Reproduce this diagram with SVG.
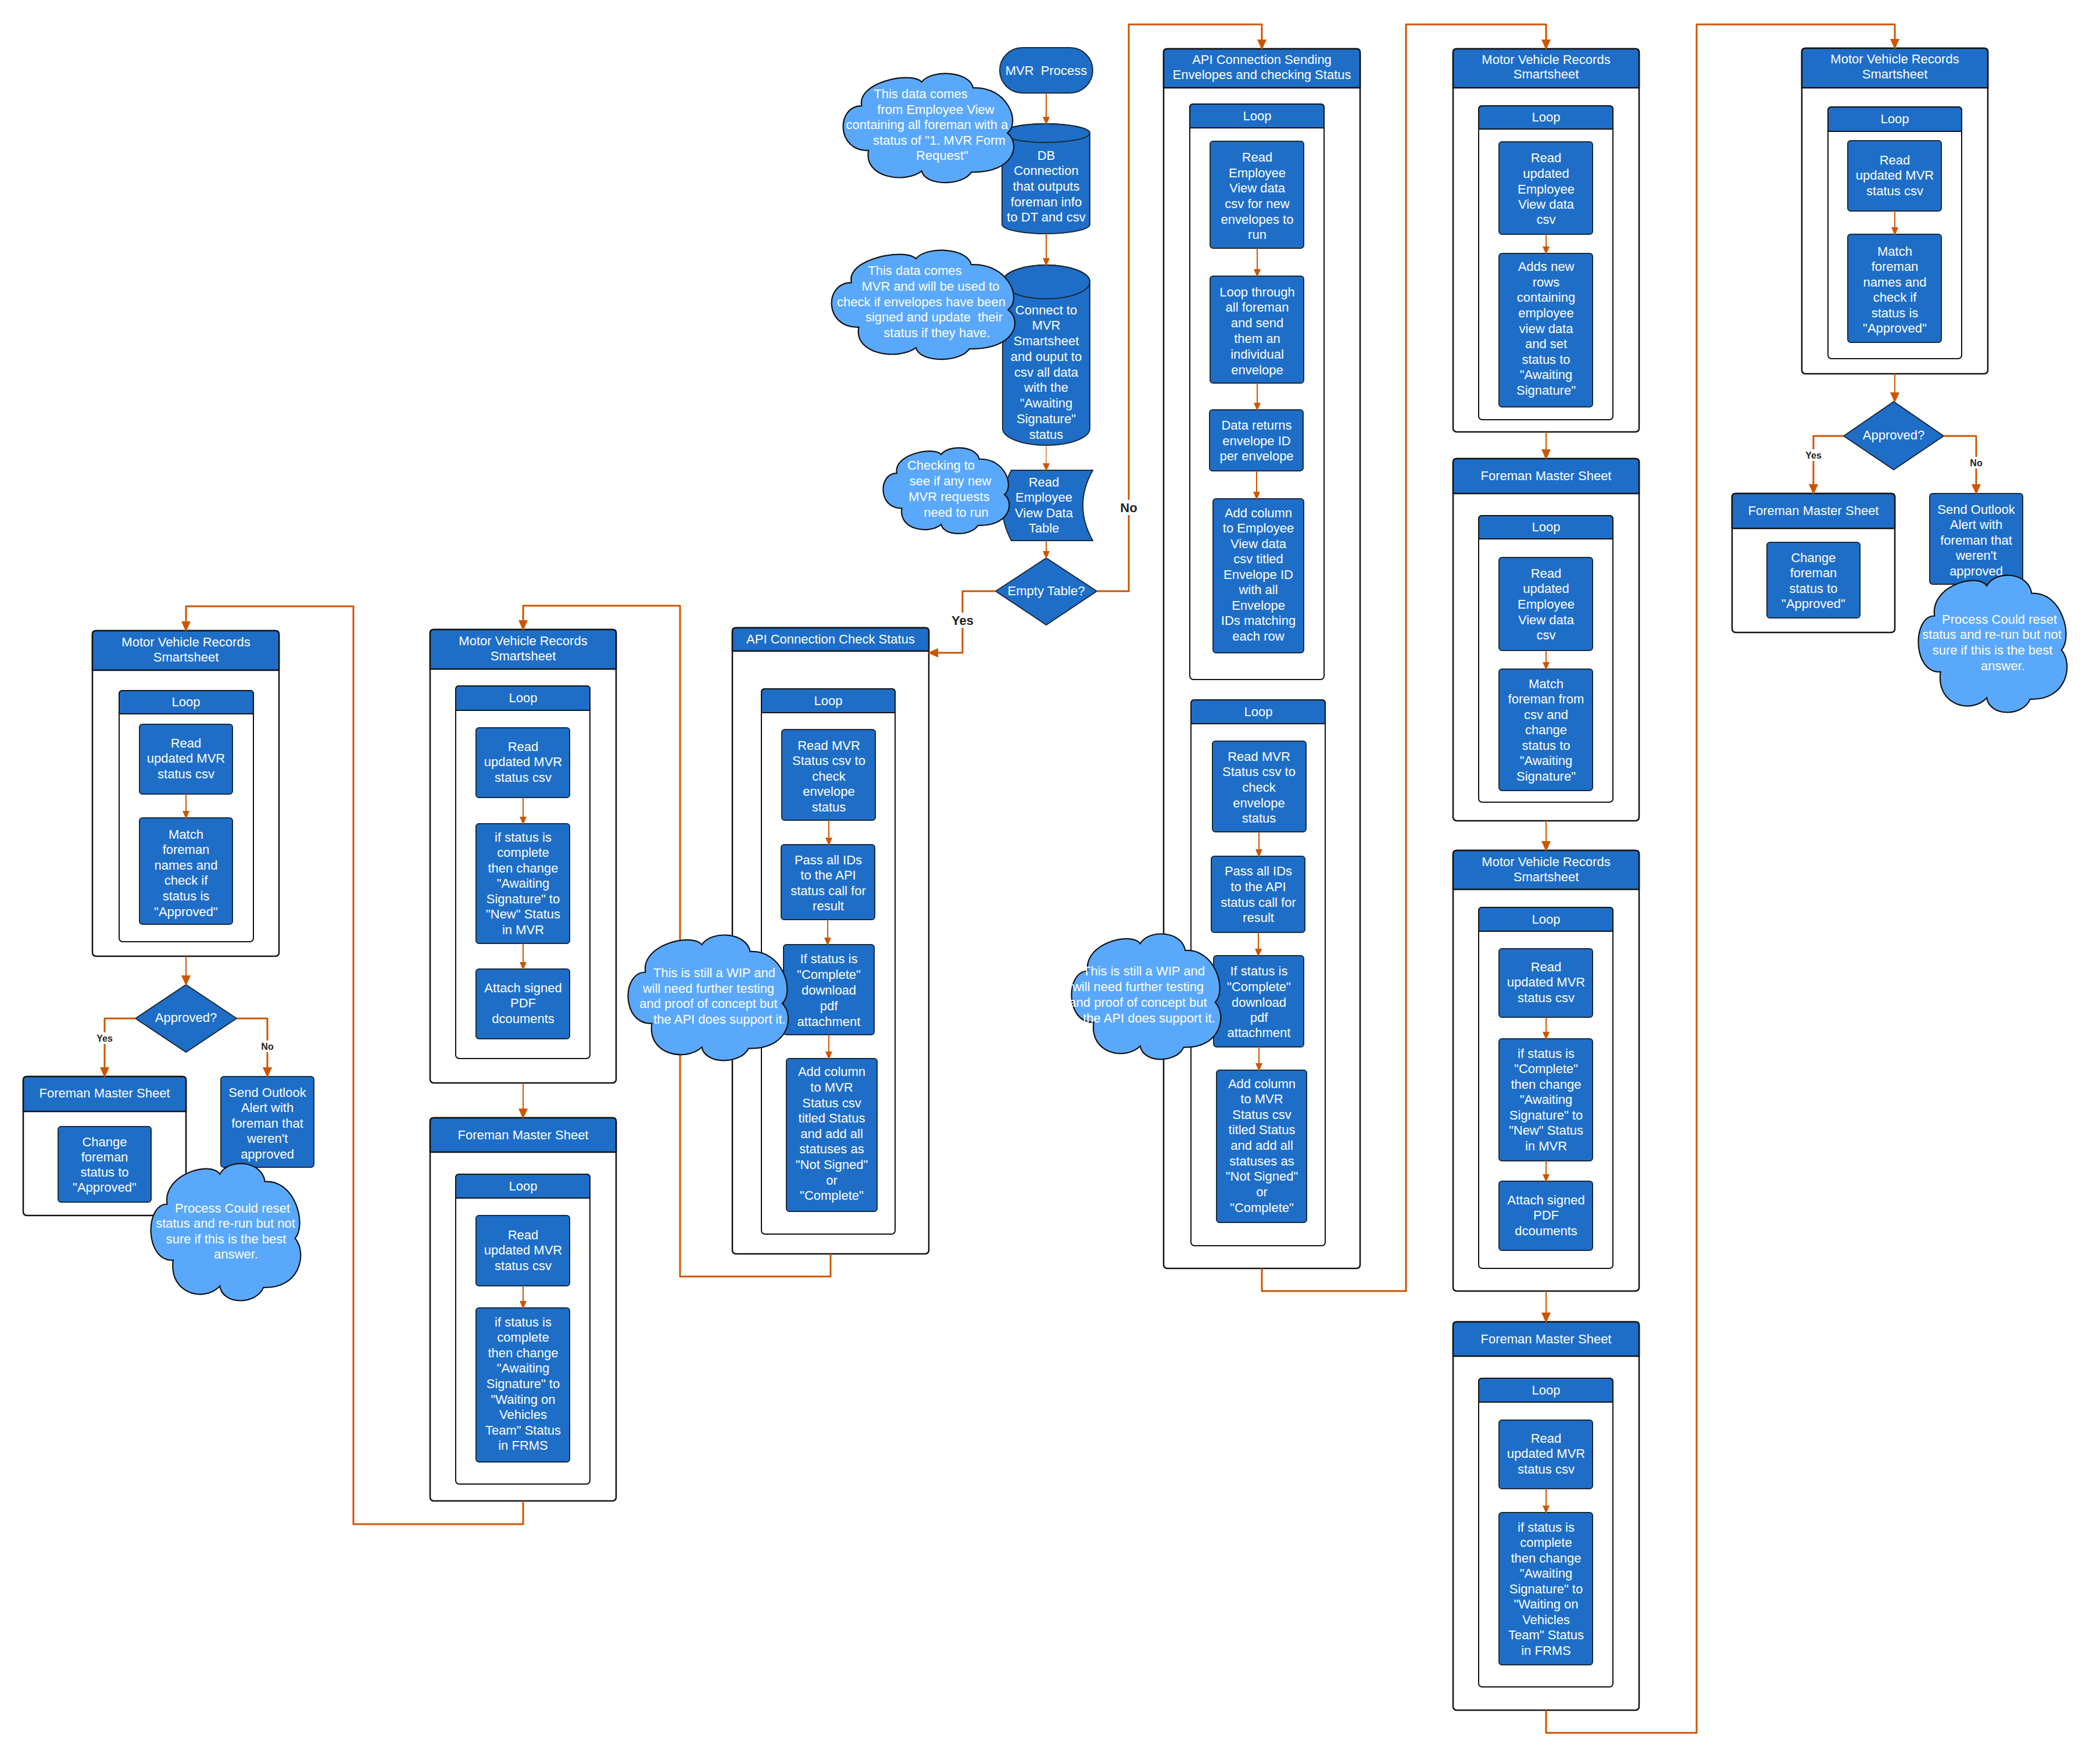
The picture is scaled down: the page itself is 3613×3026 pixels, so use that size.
<svg xmlns="http://www.w3.org/2000/svg" width="3613" height="3026" viewBox="0 0 3613 3026">
<style>
.bg{fill:#ffffff}
.box{fill:#1e6ec8;stroke:#1a2a3a;stroke-width:2}
.cont{fill:#ffffff;stroke:#111111;stroke-width:2.5}
.hdr{fill:#1e6ec8;stroke:#111111;stroke-width:2.5}
.dia{fill:#1e6ec8;stroke:#1a2a3a;stroke-width:2}
.cloud{fill:#5aa8fc;stroke:#111111;stroke-width:2.2}
.t{font-family:"Liberation Sans",Arial,sans-serif;font-size:22px;fill:#ffffff;text-anchor:middle;dominant-baseline:central}
.c1{fill:none;stroke:#cc5500;stroke-width:3;stroke-linejoin:round}
.c2{fill:none;stroke:#cc5500;stroke-width:2}
.lb{font-family:"Liberation Sans",Arial,sans-serif;font-weight:bold;fill:#222222;text-anchor:middle;dominant-baseline:central}
.lbg{fill:#ffffff}
</style>
<defs>
<marker id="ah" viewBox="0 0 18 16" refX="16" refY="8" markerWidth="18" markerHeight="16" markerUnits="userSpaceOnUse" orient="auto"><path d="M0,0 L18,8 L0,16 Z" fill="#cc5500"/></marker>
<marker id="as" viewBox="0 0 14 12" refX="12" refY="6" markerWidth="14" markerHeight="12" markerUnits="userSpaceOnUse" orient="auto"><path d="M0,0 L14,6 L0,12 Z" fill="#cc5500"/></marker>
<path id="cl" vector-effect="non-scaling-stroke" d="M11,30 C8,8 40,-2 46,8 C52,-4 74,-2 76,13.5 C96,12 104,45 96,55 C104,65 100,92 75,91 C70,104 48,104 46,90 C36,102 12,96 15,71 C-4,72 -4,30 11,30 Z"/>
</defs>
<rect class="bg" x="0" y="0" width="3613" height="3026"/>

<!-- ===== containers & nodes ===== -->
<g id="start-mvr-process">
<rect class="box" x="1720" y="82" width="160" height="78" rx="39"/>
<text class="t" x="1800" y="121">MVR&#160; Process</text>
</g>
<g id="db-connection">
<path class="box" d="M1724 229 A75.5 16 0 0 1 1875 229 V386 A75.5 16 0 0 1 1724 386 Z"/>
<ellipse cx="1799.5" cy="229" rx="75.5" ry="16" fill="none" stroke="#1a2a3a" stroke-width="2"/>
<text class="t"><tspan x="1800" y="267">DB</tspan><tspan x="1800" y="293">Connection</tspan><tspan x="1800" y="320">that outputs</tspan><tspan x="1800" y="347">foreman info</tspan><tspan x="1800" y="373">to DT and csv</tspan></text>
</g>
<g id="connect-mvr-smartsheet">
<path class="box" d="M1725 485 A75 29 0 0 1 1875 485 V737 A75 29 0 0 1 1725 737 Z"/>
<ellipse cx="1800" cy="485" rx="75" ry="29" fill="none" stroke="#1a2a3a" stroke-width="2"/>
<text class="t"><tspan x="1800" y="533">Connect to</tspan><tspan x="1800" y="559">MVR</tspan><tspan x="1800" y="586">Smartsheet</tspan><tspan x="1800" y="613">and ouput to</tspan><tspan x="1800" y="640">csv all data</tspan><tspan x="1800" y="666">with the</tspan><tspan x="1800" y="693">"Awaiting</tspan><tspan x="1800" y="720">Signature"</tspan><tspan x="1800" y="747">status</tspan></text>
</g>
<g id="read-employee-view">
<path class="box" d="M1740 809 H1880 Q1846 869.5 1880 930 H1740 Q1708 869.5 1740 809 Z"/>
<text class="t"><tspan x="1796" y="829">Read</tspan><tspan x="1796" y="855">Employee</tspan><tspan x="1796" y="882">View Data</tspan><tspan x="1796" y="908">Table</tspan></text>
</g>
<g id="empty-table">
<path class="dia" d="M1713 1017 L1800 960 L1887 1017 L1800 1075 Z"/>
<text class="t" x="1800" y="1016">Empty Table?</text>
</g>

<!-- column 1 -->
<g id="c1-mvr">
<rect class="cont" x="159" y="1085" width="321" height="560" rx="6"/>
<path class="hdr" d="M159 1153 V1091 Q159 1085 165 1085 H474 Q480 1085 480 1091 V1153 Z"/>
<text class="t"><tspan x="320" y="1104">Motor Vehicle Records</tspan><tspan x="320" y="1130">Smartsheet</tspan></text>
</g>
<g id="c1-loop">
<rect class="cont" x="205" y="1188" width="231" height="432" rx="6" style="stroke-width:2"/>
<path class="hdr" style="stroke-width:2" d="M205 1228 V1194 Q205 1188 211 1188 H430 Q436 1188 436 1194 V1228 Z"/>
<text class="t" x="320" y="1207">Loop</text>
</g>
<g id="c1-read">
<rect class="box" x="240" y="1246" width="160" height="120" rx="5"/>
<text class="t"><tspan x="320" y="1278">Read</tspan><tspan x="320" y="1304">updated MVR</tspan><tspan x="320" y="1331">status csv</tspan></text>
</g>
<g id="c1-match">
<rect class="box" x="240" y="1407" width="160" height="183" rx="5"/>
<text class="t"><tspan x="320" y="1435">Match</tspan><tspan x="320" y="1461">foreman</tspan><tspan x="320" y="1488">names and</tspan><tspan x="320" y="1514">check if</tspan><tspan x="320" y="1541">status is</tspan><tspan x="320" y="1568">"Approved"</tspan></text>
</g>
<g id="c1-approved">
<path class="dia" d="M233 1752 L320 1694 L407 1752 L320 1810 Z"/>
<text class="t" x="320" y="1750">Approved?</text>
</g>
<g id="c1-fms">
<rect class="cont" x="40" y="1852" width="280" height="239" rx="6"/>
<path class="hdr" d="M40 1912 V1858 Q40 1852 46 1852 H314 Q320 1852 320 1858 V1912 Z"/>
<text class="t" x="180" y="1880">Foreman Master Sheet</text>
</g>
<g id="c1-change">
<rect class="box" x="100" y="1938" width="160" height="130" rx="5"/>
<text class="t"><tspan x="180" y="1964">Change</tspan><tspan x="180" y="1990">foreman</tspan><tspan x="180" y="2016">status to</tspan><tspan x="180" y="2042">"Approved"</tspan></text>
</g>
<g id="c1-outlook">
<rect class="box" x="380" y="1852" width="160" height="156" rx="5"/>
<text class="t"><tspan x="460" y="1879">Send Outlook</tspan><tspan x="460" y="1905">Alert with</tspan><tspan x="460" y="1932">foreman that</tspan><tspan x="460" y="1958">weren't</tspan><tspan x="460" y="1985">approved</tspan></text>
</g>

<!-- column 2 -->
<g id="c2-mvr">
<rect class="cont" x="740" y="1083" width="320" height="780" rx="6"/>
<path class="hdr" d="M740 1151 V1089 Q740 1083 746 1083 H1054 Q1060 1083 1060 1089 V1151 Z"/>
<text class="t"><tspan x="900" y="1102">Motor Vehicle Records</tspan><tspan x="900" y="1128">Smartsheet</tspan></text>
</g>
<g id="c2-loop">
<rect class="cont" x="784" y="1180" width="231" height="641" rx="6" style="stroke-width:2"/>
<path class="hdr" style="stroke-width:2" d="M784 1222 V1186 Q784 1180 790 1180 H1009 Q1015 1180 1015 1186 V1222 Z"/>
<text class="t" x="900" y="1200">Loop</text>
</g>
<g id="c2-read">
<rect class="box" x="819" y="1252" width="161" height="120" rx="5"/>
<text class="t"><tspan x="900" y="1284">Read</tspan><tspan x="900" y="1310">updated MVR</tspan><tspan x="900" y="1337">status csv</tspan></text>
</g>
<g id="c2-ifcomplete">
<rect class="box" x="819" y="1417" width="161" height="206" rx="5"/>
<text class="t"><tspan x="900" y="1440">if status is</tspan><tspan x="900" y="1466">complete</tspan><tspan x="900" y="1493">then change</tspan><tspan x="900" y="1519">"Awaiting</tspan><tspan x="900" y="1546">Signature" to</tspan><tspan x="900" y="1572">"New" Status</tspan><tspan x="900" y="1599">in MVR</tspan></text>
</g>
<g id="c2-attach">
<rect class="box" x="819" y="1667" width="161" height="120" rx="5"/>
<text class="t"><tspan x="900" y="1699">Attach signed</tspan><tspan x="900" y="1725">PDF</tspan><tspan x="900" y="1752">dcouments</tspan></text>
</g>
<g id="c2-fms">
<rect class="cont" x="740" y="1923" width="320" height="659" rx="6"/>
<path class="hdr" d="M740 1982 V1929 Q740 1923 746 1923 H1054 Q1060 1923 1060 1929 V1982 Z"/>
<text class="t" x="900" y="1952">Foreman Master Sheet</text>
</g>
<g id="c2-fms-loop">
<rect class="cont" x="784" y="2020" width="231" height="533" rx="6" style="stroke-width:2"/>
<path class="hdr" style="stroke-width:2" d="M784 2061 V2026 Q784 2020 790 2020 H1009 Q1015 2020 1015 2026 V2061 Z"/>
<text class="t" x="900" y="2040">Loop</text>
</g>
<g id="c2-fms-read">
<rect class="box" x="819" y="2091" width="161" height="121" rx="5"/>
<text class="t"><tspan x="900" y="2124">Read</tspan><tspan x="900" y="2150">updated MVR</tspan><tspan x="900" y="2177">status csv</tspan></text>
</g>
<g id="c2-fms-ifcomplete">
<rect class="box" x="819" y="2250" width="161" height="265" rx="5"/>
<text class="t"><tspan x="900" y="2274">if status is</tspan><tspan x="900" y="2300">complete</tspan><tspan x="900" y="2327">then change</tspan><tspan x="900" y="2353">"Awaiting</tspan><tspan x="900" y="2380">Signature" to</tspan><tspan x="900" y="2407">"Waiting on</tspan><tspan x="900" y="2433">Vehicles</tspan><tspan x="900" y="2460">Team" Status</tspan><tspan x="900" y="2486">in FRMS</tspan></text>
</g>

<!-- column 3 : API check status -->
<g id="c3-api-check">
<rect class="cont" x="1260" y="1080" width="338" height="1077" rx="6"/>
<path class="hdr" d="M1260 1120 V1086 Q1260 1080 1266 1080 H1592 Q1598 1080 1598 1086 V1120 Z"/>
<text class="t" x="1429" y="1099">API Connection Check Status</text>
</g>
<g id="c3-loop">
<rect class="cont" x="1310" y="1185" width="230" height="938" rx="6" style="stroke-width:2"/>
<path class="hdr" style="stroke-width:2" d="M1310 1226 V1191 Q1310 1185 1316 1185 H1534 Q1540 1185 1540 1191 V1226 Z"/>
<text class="t" x="1425" y="1205">Loop</text>
</g>
<g id="c3-read">
<rect class="box" x="1345" y="1255" width="161" height="156" rx="5"/>
<text class="t"><tspan x="1426" y="1282">Read MVR</tspan><tspan x="1426" y="1308">Status csv to</tspan><tspan x="1426" y="1335">check</tspan><tspan x="1426" y="1361">envelope</tspan><tspan x="1426" y="1388">status</tspan></text>
</g>
<g id="c3-pass">
<rect class="box" x="1344" y="1453" width="161" height="129" rx="5"/>
<text class="t"><tspan x="1425" y="1479">Pass all IDs</tspan><tspan x="1425" y="1505">to the API</tspan><tspan x="1425" y="1532">status call for</tspan><tspan x="1425" y="1558">result</tspan></text>
</g>
<g id="c3-ifcomplete">
<rect class="box" x="1348" y="1625" width="156" height="155" rx="5"/>
<text class="t"><tspan x="1426" y="1649">If status is</tspan><tspan x="1426" y="1676">"Complete"</tspan><tspan x="1426" y="1703">download</tspan><tspan x="1426" y="1730">pdf</tspan><tspan x="1426" y="1757">attachment</tspan></text>
</g>
<g id="c3-addcol">
<rect class="box" x="1353" y="1821" width="156" height="263" rx="5"/>
<text class="t"><tspan x="1431" y="1843">Add column</tspan><tspan x="1431" y="1870">to MVR</tspan><tspan x="1431" y="1897">Status csv</tspan><tspan x="1431" y="1923">titled Status</tspan><tspan x="1431" y="1950">and add all</tspan><tspan x="1431" y="1976">statuses as</tspan><tspan x="1431" y="2003">"Not Signed"</tspan><tspan x="1431" y="2030">or</tspan><tspan x="1431" y="2056">"Complete"</tspan></text>
</g>

<!-- column 4 : API sending -->
<g id="c4-api-send">
<rect class="cont" x="2002" y="84" width="338" height="2098" rx="6"/>
<path class="hdr" d="M2002 151 V90 Q2002 84 2008 84 H2334 Q2340 84 2340 90 V151 Z"/>
<text class="t"><tspan x="2171" y="102">API Connection Sending</tspan><tspan x="2171" y="128">Envelopes and checking Status</tspan></text>
</g>
<g id="c4-loop1">
<rect class="cont" x="2047" y="179" width="231" height="990" rx="6" style="stroke-width:2"/>
<path class="hdr" style="stroke-width:2" d="M2047 220 V185 Q2047 179 2053 179 H2272 Q2278 179 2278 185 V220 Z"/>
<text class="t" x="2163" y="199">Loop</text>
</g>
<g id="c4-read">
<rect class="box" x="2082" y="243" width="161" height="184" rx="5"/>
<text class="t"><tspan x="2163" y="270">Read</tspan><tspan x="2163" y="297">Employee</tspan><tspan x="2163" y="323">View data</tspan><tspan x="2163" y="350">csv for new</tspan><tspan x="2163" y="377">envelopes to</tspan><tspan x="2163" y="403">run</tspan></text>
</g>
<g id="c4-loopthrough">
<rect class="box" x="2082" y="475" width="161" height="184" rx="5"/>
<text class="t"><tspan x="2163" y="502">Loop through</tspan><tspan x="2163" y="528">all foreman</tspan><tspan x="2163" y="555">and send</tspan><tspan x="2163" y="582">them an</tspan><tspan x="2163" y="609">individual</tspan><tspan x="2163" y="636">envelope</tspan></text>
</g>
<g id="c4-datareturns">
<rect class="box" x="2081" y="705" width="161" height="105" rx="5"/>
<text class="t"><tspan x="2162" y="731">Data returns</tspan><tspan x="2162" y="758">envelope ID</tspan><tspan x="2162" y="784">per envelope</tspan></text>
</g>
<g id="c4-addcol-emp">
<rect class="box" x="2087" y="858" width="156" height="265" rx="5"/>
<text class="t"><tspan x="2165" y="882">Add column</tspan><tspan x="2165" y="908">to Employee</tspan><tspan x="2165" y="935">View data</tspan><tspan x="2165" y="961">csv titled</tspan><tspan x="2165" y="988">Envelope ID</tspan><tspan x="2165" y="1014">with all</tspan><tspan x="2165" y="1041">Envelope</tspan><tspan x="2165" y="1067">IDs matching</tspan><tspan x="2165" y="1094">each row</tspan></text>
</g>
<g id="c4-loop2">
<rect class="cont" x="2049" y="1204" width="231" height="939" rx="6" style="stroke-width:2"/>
<path class="hdr" style="stroke-width:2" d="M2049 1245 V1210 Q2049 1204 2055 1204 H2274 Q2280 1204 2280 1210 V1245 Z"/>
<text class="t" x="2165" y="1224">Loop</text>
</g>
<g id="c4-read-mvr">
<rect class="box" x="2086" y="1275" width="161" height="156" rx="5"/>
<text class="t"><tspan x="2166" y="1301">Read MVR</tspan><tspan x="2166" y="1327">Status csv to</tspan><tspan x="2166" y="1354">check</tspan><tspan x="2166" y="1381">envelope</tspan><tspan x="2166" y="1407">status</tspan></text>
</g>
<g id="c4-pass">
<rect class="box" x="2084" y="1473" width="161" height="131" rx="5"/>
<text class="t"><tspan x="2165" y="1498">Pass all IDs</tspan><tspan x="2165" y="1525">to the API</tspan><tspan x="2165" y="1552">status call for</tspan><tspan x="2165" y="1578">result</tspan></text>
</g>
<g id="c4-ifcomplete">
<rect class="box" x="2088" y="1644" width="155" height="157" rx="5"/>
<text class="t"><tspan x="2166" y="1670">If status is</tspan><tspan x="2166" y="1697">"Complete"</tspan><tspan x="2166" y="1724">download</tspan><tspan x="2166" y="1750">pdf</tspan><tspan x="2166" y="1776">attachment</tspan></text>
</g>
<g id="c4-addcol-mvr">
<rect class="box" x="2093" y="1841" width="155" height="262" rx="5"/>
<text class="t"><tspan x="2171" y="1864">Add column</tspan><tspan x="2171" y="1890">to MVR</tspan><tspan x="2171" y="1917">Status csv</tspan><tspan x="2171" y="1943">titled Status</tspan><tspan x="2171" y="1970">and add all</tspan><tspan x="2171" y="1997">statuses as</tspan><tspan x="2171" y="2023">"Not Signed"</tspan><tspan x="2171" y="2050">or</tspan><tspan x="2171" y="2077">"Complete"</tspan></text>
</g>

<!-- column 5 -->
<g id="c5-mvr1">
<rect class="cont" x="2500" y="84" width="320" height="659" rx="6"/>
<path class="hdr" d="M2500 151 V90 Q2500 84 2506 84 H2814 Q2820 84 2820 90 V151 Z"/>
<text class="t"><tspan x="2660" y="102">Motor Vehicle Records</tspan><tspan x="2660" y="127">Smartsheet</tspan></text>
</g>
<g id="c5-mvr1-loop">
<rect class="cont" x="2544" y="182" width="231" height="540" rx="6" style="stroke-width:2"/>
<path class="hdr" style="stroke-width:2" d="M2544 222 V188 Q2544 182 2550 182 H2769 Q2775 182 2775 188 V222 Z"/>
<text class="t" x="2660" y="201">Loop</text>
</g>
<g id="c5-mvr1-read">
<rect class="box" x="2579" y="244" width="161" height="159" rx="5"/>
<text class="t"><tspan x="2660" y="271">Read</tspan><tspan x="2660" y="298">updated</tspan><tspan x="2660" y="325">Employee</tspan><tspan x="2660" y="351">View data</tspan><tspan x="2660" y="377">csv</tspan></text>
</g>
<g id="c5-mvr1-adds">
<rect class="box" x="2579" y="436" width="161" height="264" rx="5"/>
<text class="t"><tspan x="2660" y="458">Adds new</tspan><tspan x="2660" y="485">rows</tspan><tspan x="2660" y="511">containing</tspan><tspan x="2660" y="538">employee</tspan><tspan x="2660" y="565">view data</tspan><tspan x="2660" y="591">and set</tspan><tspan x="2660" y="618">status to</tspan><tspan x="2660" y="644">"Awaiting</tspan><tspan x="2660" y="671">Signature"</tspan></text>
</g>
<g id="c5-fms2">
<rect class="cont" x="2500" y="789" width="320" height="623" rx="6"/>
<path class="hdr" d="M2500 849 V795 Q2500 789 2506 789 H2814 Q2820 789 2820 795 V849 Z"/>
<text class="t" x="2660" y="818">Foreman Master Sheet</text>
</g>
<g id="c5-fms2-loop">
<rect class="cont" x="2544" y="887" width="231" height="493" rx="6" style="stroke-width:2"/>
<path class="hdr" style="stroke-width:2" d="M2544 927 V893 Q2544 887 2550 887 H2769 Q2775 887 2775 893 V927 Z"/>
<text class="t" x="2660" y="906">Loop</text>
</g>
<g id="c5-fms2-read">
<rect class="box" x="2579" y="959" width="161" height="160" rx="5"/>
<text class="t"><tspan x="2660" y="986">Read</tspan><tspan x="2660" y="1012">updated</tspan><tspan x="2660" y="1039">Employee</tspan><tspan x="2660" y="1066">View data</tspan><tspan x="2660" y="1092">csv</tspan></text>
</g>
<g id="c5-fms2-match">
<rect class="box" x="2579" y="1151" width="161" height="209" rx="5"/>
<text class="t"><tspan x="2660" y="1176">Match</tspan><tspan x="2660" y="1202">foreman from</tspan><tspan x="2660" y="1229">csv and</tspan><tspan x="2660" y="1255">change</tspan><tspan x="2660" y="1282">status to</tspan><tspan x="2660" y="1308">"Awaiting</tspan><tspan x="2660" y="1335">Signature"</tspan></text>
</g>
<g id="c5-mvr3">
<rect class="cont" x="2500" y="1463" width="320" height="758" rx="6"/>
<path class="hdr" d="M2500 1530 V1469 Q2500 1463 2506 1463 H2814 Q2820 1463 2820 1469 V1530 Z"/>
<text class="t"><tspan x="2660" y="1482">Motor Vehicle Records</tspan><tspan x="2660" y="1508">Smartsheet</tspan></text>
</g>
<g id="c5-mvr3-loop">
<rect class="cont" x="2544" y="1561" width="231" height="621" rx="6" style="stroke-width:2"/>
<path class="hdr" style="stroke-width:2" d="M2544 1602 V1567 Q2544 1561 2550 1561 H2769 Q2775 1561 2775 1567 V1602 Z"/>
<text class="t" x="2660" y="1581">Loop</text>
</g>
<g id="c5-mvr3-read">
<rect class="box" x="2579" y="1632" width="161" height="118" rx="5"/>
<text class="t"><tspan x="2660" y="1663">Read</tspan><tspan x="2660" y="1689">updated MVR</tspan><tspan x="2660" y="1716">status csv</tspan></text>
</g>
<g id="c5-mvr3-if">
<rect class="box" x="2579" y="1787" width="161" height="210" rx="5"/>
<text class="t"><tspan x="2660" y="1812">if status is</tspan><tspan x="2660" y="1838">"Complete"</tspan><tspan x="2660" y="1865">then change</tspan><tspan x="2660" y="1891">"Awaiting</tspan><tspan x="2660" y="1918">Signature" to</tspan><tspan x="2660" y="1944">"New" Status</tspan><tspan x="2660" y="1971">in MVR</tspan></text>
</g>
<g id="c5-mvr3-attach">
<rect class="box" x="2579" y="2032" width="161" height="119" rx="5"/>
<text class="t"><tspan x="2660" y="2064">Attach signed</tspan><tspan x="2660" y="2090">PDF</tspan><tspan x="2660" y="2117">dcouments</tspan></text>
</g>
<g id="c5-fms4">
<rect class="cont" x="2500" y="2274" width="320" height="668" rx="6"/>
<path class="hdr" d="M2500 2333 V2280 Q2500 2274 2506 2274 H2814 Q2820 2274 2820 2280 V2333 Z"/>
<text class="t" x="2660" y="2303">Foreman Master Sheet</text>
</g>
<g id="c5-fms4-loop">
<rect class="cont" x="2544" y="2371" width="231" height="531" rx="6" style="stroke-width:2"/>
<path class="hdr" style="stroke-width:2" d="M2544 2412 V2377 Q2544 2371 2550 2371 H2769 Q2775 2371 2775 2377 V2412 Z"/>
<text class="t" x="2660" y="2391">Loop</text>
</g>
<g id="c5-fms4-read">
<rect class="box" x="2579" y="2443" width="161" height="118" rx="5"/>
<text class="t"><tspan x="2660" y="2474">Read</tspan><tspan x="2660" y="2500">updated MVR</tspan><tspan x="2660" y="2527">status csv</tspan></text>
</g>
<g id="c5-fms4-if">
<rect class="box" x="2579" y="2602" width="161" height="262" rx="5"/>
<text class="t"><tspan x="2660" y="2627">if status is</tspan><tspan x="2660" y="2653">complete</tspan><tspan x="2660" y="2680">then change</tspan><tspan x="2660" y="2706">"Awaiting</tspan><tspan x="2660" y="2733">Signature" to</tspan><tspan x="2660" y="2759">"Waiting on</tspan><tspan x="2660" y="2786">Vehicles</tspan><tspan x="2660" y="2812">Team" Status</tspan><tspan x="2660" y="2839">in FRMS</tspan></text>
</g>

<!-- column 6 -->
<g id="c6-mvr">
<rect class="cont" x="3100" y="83" width="320" height="560" rx="6"/>
<path class="hdr" d="M3100 151 V89 Q3100 83 3106 83 H3414 Q3420 83 3420 89 V151 Z"/>
<text class="t"><tspan x="3260" y="101">Motor Vehicle Records</tspan><tspan x="3260" y="127">Smartsheet</tspan></text>
</g>
<g id="c6-loop">
<rect class="cont" x="3145" y="184" width="230" height="433" rx="6" style="stroke-width:2"/>
<path class="hdr" style="stroke-width:2" d="M3145 226 V190 Q3145 184 3151 184 H3369 Q3375 184 3375 190 V226 Z"/>
<text class="t" x="3260" y="204">Loop</text>
</g>
<g id="c6-read">
<rect class="box" x="3179" y="242" width="161" height="121" rx="5"/>
<text class="t"><tspan x="3260" y="275">Read</tspan><tspan x="3260" y="301">updated MVR</tspan><tspan x="3260" y="328">status csv</tspan></text>
</g>
<g id="c6-match">
<rect class="box" x="3179" y="403" width="161" height="186" rx="5"/>
<text class="t"><tspan x="3260" y="432">Match</tspan><tspan x="3260" y="458">foreman</tspan><tspan x="3260" y="485">names and</tspan><tspan x="3260" y="511">check if</tspan><tspan x="3260" y="538">status is</tspan><tspan x="3260" y="564">"Approved"</tspan></text>
</g>
<g id="c6-approved">
<path class="dia" d="M3172 750 L3258 691 L3344 750 L3258 808 Z"/>
<text class="t" x="3258" y="748">Approved?</text>
</g>
<g id="c6-fms">
<rect class="cont" x="2980" y="849" width="280" height="239" rx="6"/>
<path class="hdr" d="M2980 909 V855 Q2980 849 2986 849 H3254 Q3260 849 3260 855 V909 Z"/>
<text class="t" x="3120" y="878">Foreman Master Sheet</text>
</g>
<g id="c6-change">
<rect class="box" x="3040" y="933" width="160" height="130" rx="5"/>
<text class="t"><tspan x="3120" y="959">Change</tspan><tspan x="3120" y="985">foreman</tspan><tspan x="3120" y="1012">status to</tspan><tspan x="3120" y="1038">"Approved"</tspan></text>
</g>
<g id="c6-outlook">
<rect class="box" x="3320" y="849" width="160" height="156" rx="5"/>
<text class="t"><tspan x="3400" y="876">Send Outlook</tspan><tspan x="3400" y="902">Alert with</tspan><tspan x="3400" y="929">foreman that</tspan><tspan x="3400" y="955">weren't</tspan><tspan x="3400" y="982">approved</tspan></text>
</g>

<!-- ===== connectors ===== -->
<g id="connectors">
<path class="c2" marker-end="url(#as)" d="M1800 160 V213"/>
<path class="c2" marker-end="url(#as)" d="M1800 402 V456"/>
<path class="c2" style="stroke-width:1.2" marker-end="url(#as)" d="M1800 766 V809"/>
<path class="c2" marker-end="url(#as)" d="M1800 930 V960"/>
<path class="c1" marker-end="url(#ah)" d="M1713 1017 H1656 V1123 H1598"/>
<path class="c1" marker-end="url(#ah)" d="M1887 1017 H1942 V42 H2171 V84"/>
<path class="c1" marker-end="url(#ah)" d="M1429 2157 V2196 H1170 V1042 H900 V1083"/>
<path class="c1" marker-end="url(#ah)" d="M900 2582 V2622 H608 V1043 H320 V1085"/>
<path class="c1" marker-end="url(#ah)" d="M2171 2182 V2221 H2419 V42 H2660 V84"/>
<path class="c1" marker-end="url(#ah)" d="M2660 2942 V2981 H2919 V42 H3260 V83"/>
<path class="c2" marker-end="url(#as)" d="M320 1366 V1407"/>
<path class="c2" marker-end="url(#ah)" d="M320 1645 V1694"/>
<path class="c1" marker-end="url(#ah)" d="M233 1752 H180 V1852"/>
<path class="c1" marker-end="url(#ah)" d="M407 1752 H460 V1852"/>
<path class="c2" marker-end="url(#as)" d="M900 1372 V1417"/>
<path class="c2" marker-end="url(#as)" d="M900 1623 V1667"/>
<path class="c2" marker-end="url(#ah)" d="M900 1863 V1923"/>
<path class="c2" marker-end="url(#as)" d="M900 2212 V2250"/>
<path class="c2" marker-end="url(#as)" d="M1426 1411 V1453"/>
<path class="c2" marker-end="url(#as)" d="M1424 1582 V1625"/>
<path class="c2" marker-end="url(#as)" d="M1426 1780 V1821"/>
<path class="c2" marker-end="url(#as)" d="M2163 427 V475"/>
<path class="c2" marker-end="url(#as)" d="M2163 659 V705"/>
<path class="c2" marker-end="url(#as)" d="M2162 810 V858"/>
<path class="c2" marker-end="url(#as)" d="M2166 1431 V1473"/>
<path class="c2" marker-end="url(#as)" d="M2165 1604 V1644"/>
<path class="c2" marker-end="url(#as)" d="M2166 1801 V1841"/>
<path class="c2" marker-end="url(#as)" d="M2660 403 V436"/>
<path class="c2" marker-end="url(#ah)" d="M2660 743 V789"/>
<path class="c2" marker-end="url(#as)" d="M2660 1119 V1151"/>
<path class="c2" marker-end="url(#ah)" d="M2660 1412 V1463"/>
<path class="c2" marker-end="url(#as)" d="M2660 1750 V1787"/>
<path class="c2" marker-end="url(#as)" d="M2660 1997 V2032"/>
<path class="c2" marker-end="url(#ah)" d="M2660 2221 V2274"/>
<path class="c2" marker-end="url(#as)" d="M2660 2561 V2602"/>
<path class="c2" marker-end="url(#as)" d="M3260 363 V403"/>
<path class="c2" marker-end="url(#ah)" d="M3260 643 V691"/>
<path class="c1" marker-end="url(#ah)" d="M3172 750 H3120 V849"/>
<path class="c1" marker-end="url(#ah)" d="M3344 750 H3400 V849"/>
<rect class="lbg" x="1632" y="1054" width="48" height="26"/>
<text class="lb" x="1656" y="1067" style="font-size:22px">Yes</text>
<rect class="lbg" x="1926" y="860" width="32" height="26"/>
<text class="lb" x="1942" y="873" style="font-size:22px">No</text>
<rect class="lbg" x="163" y="1776" width="34" height="20"/>
<text class="lb" x="180" y="1786" style="font-size:16px">Yes</text>
<rect class="lbg" x="448" y="1790" width="24" height="20"/>
<text class="lb" x="460" y="1800" style="font-size:16px">No</text>
<rect class="lbg" x="3103" y="773" width="34" height="20"/>
<text class="lb" x="3120" y="783" style="font-size:16px">Yes</text>
<rect class="lbg" x="3388" y="786" width="24" height="20"/>
<text class="lb" x="3400" y="796" style="font-size:16px">No</text>
</g>

<!-- ===== clouds (annotations) ===== -->
<g id="cloud-employee-view">
<use href="#cl" class="cloud" transform="translate(1450 126) scale(2.95 1.87)"/>
<text class="t"><tspan x="1584" y="161">This data comes</tspan><tspan x="1610" y="188">from Employee View</tspan><tspan x="1595" y="214">containing all foreman with a</tspan><tspan x="1616" y="241">status of "1. MVR Form</tspan><tspan x="1621" y="267">Request"</tspan></text>
</g>
<g id="cloud-mvr-data">
<use href="#cl" class="cloud" transform="translate(1430 430) scale(3.17 1.87)"/>
<text class="t"><tspan x="1574" y="465">This data comes</tspan><tspan x="1601" y="492">MVR and will be used to</tspan><tspan x="1585" y="519">check if envelopes have been</tspan><tspan x="1607" y="545">signed and update&#160; their</tspan><tspan x="1612" y="572">status if they have.</tspan></text>
</g>
<g id="cloud-checking">
<use href="#cl" class="cloud" transform="translate(1519 770) scale(2.18 1.47)"/>
<text class="t"><tspan x="1619" y="800">Checking to</tspan><tspan x="1635" y="827">see if any new</tspan><tspan x="1633" y="854">MVR requests</tspan><tspan x="1645" y="881">need to run</tspan></text>
</g>
<g id="cloud-wip-1">
<use href="#cl" class="cloud" transform="translate(1080 1608) scale(2.77 2.15)"/>
<text class="t"><tspan x="1229" y="1673">This is still a WIP and</tspan><tspan x="1219" y="1700">will need further testing</tspan><tspan x="1219" y="1726">and proof of concept but</tspan><tspan x="1238" y="1753">the API does support it.</tspan></text>
</g>
<g id="cloud-wip-2">
<use href="#cl" class="cloud" transform="translate(1843 1606) scale(2.58 2.15)"/>
<text class="t"><tspan x="1968" y="1670">This is still a WIP and</tspan><tspan x="1958" y="1697">will need further testing</tspan><tspan x="1958" y="1724">and proof of concept but</tspan><tspan x="1977" y="1751">the API does support it.</tspan></text>
</g>
<g id="cloud-reset-1">
<use href="#cl" class="cloud" transform="translate(259 2001) scale(2.59 2.35)"/>
<text class="t"><tspan x="400" y="2078">Process Could reset</tspan><tspan x="388" y="2104">status and re-run but not</tspan><tspan x="389" y="2131">sure if this is the best</tspan><tspan x="406" y="2157">answer.</tspan></text>
</g>
<g id="cloud-reset-2">
<use href="#cl" class="cloud" transform="translate(3300 989) scale(2.57 2.35)"/>
<text class="t"><tspan x="3440" y="1065">Process Could reset</tspan><tspan x="3427" y="1091">status and re-run but not</tspan><tspan x="3428" y="1118">sure if this is the best</tspan><tspan x="3446" y="1145">answer.</tspan></text>
</g>
</svg>
